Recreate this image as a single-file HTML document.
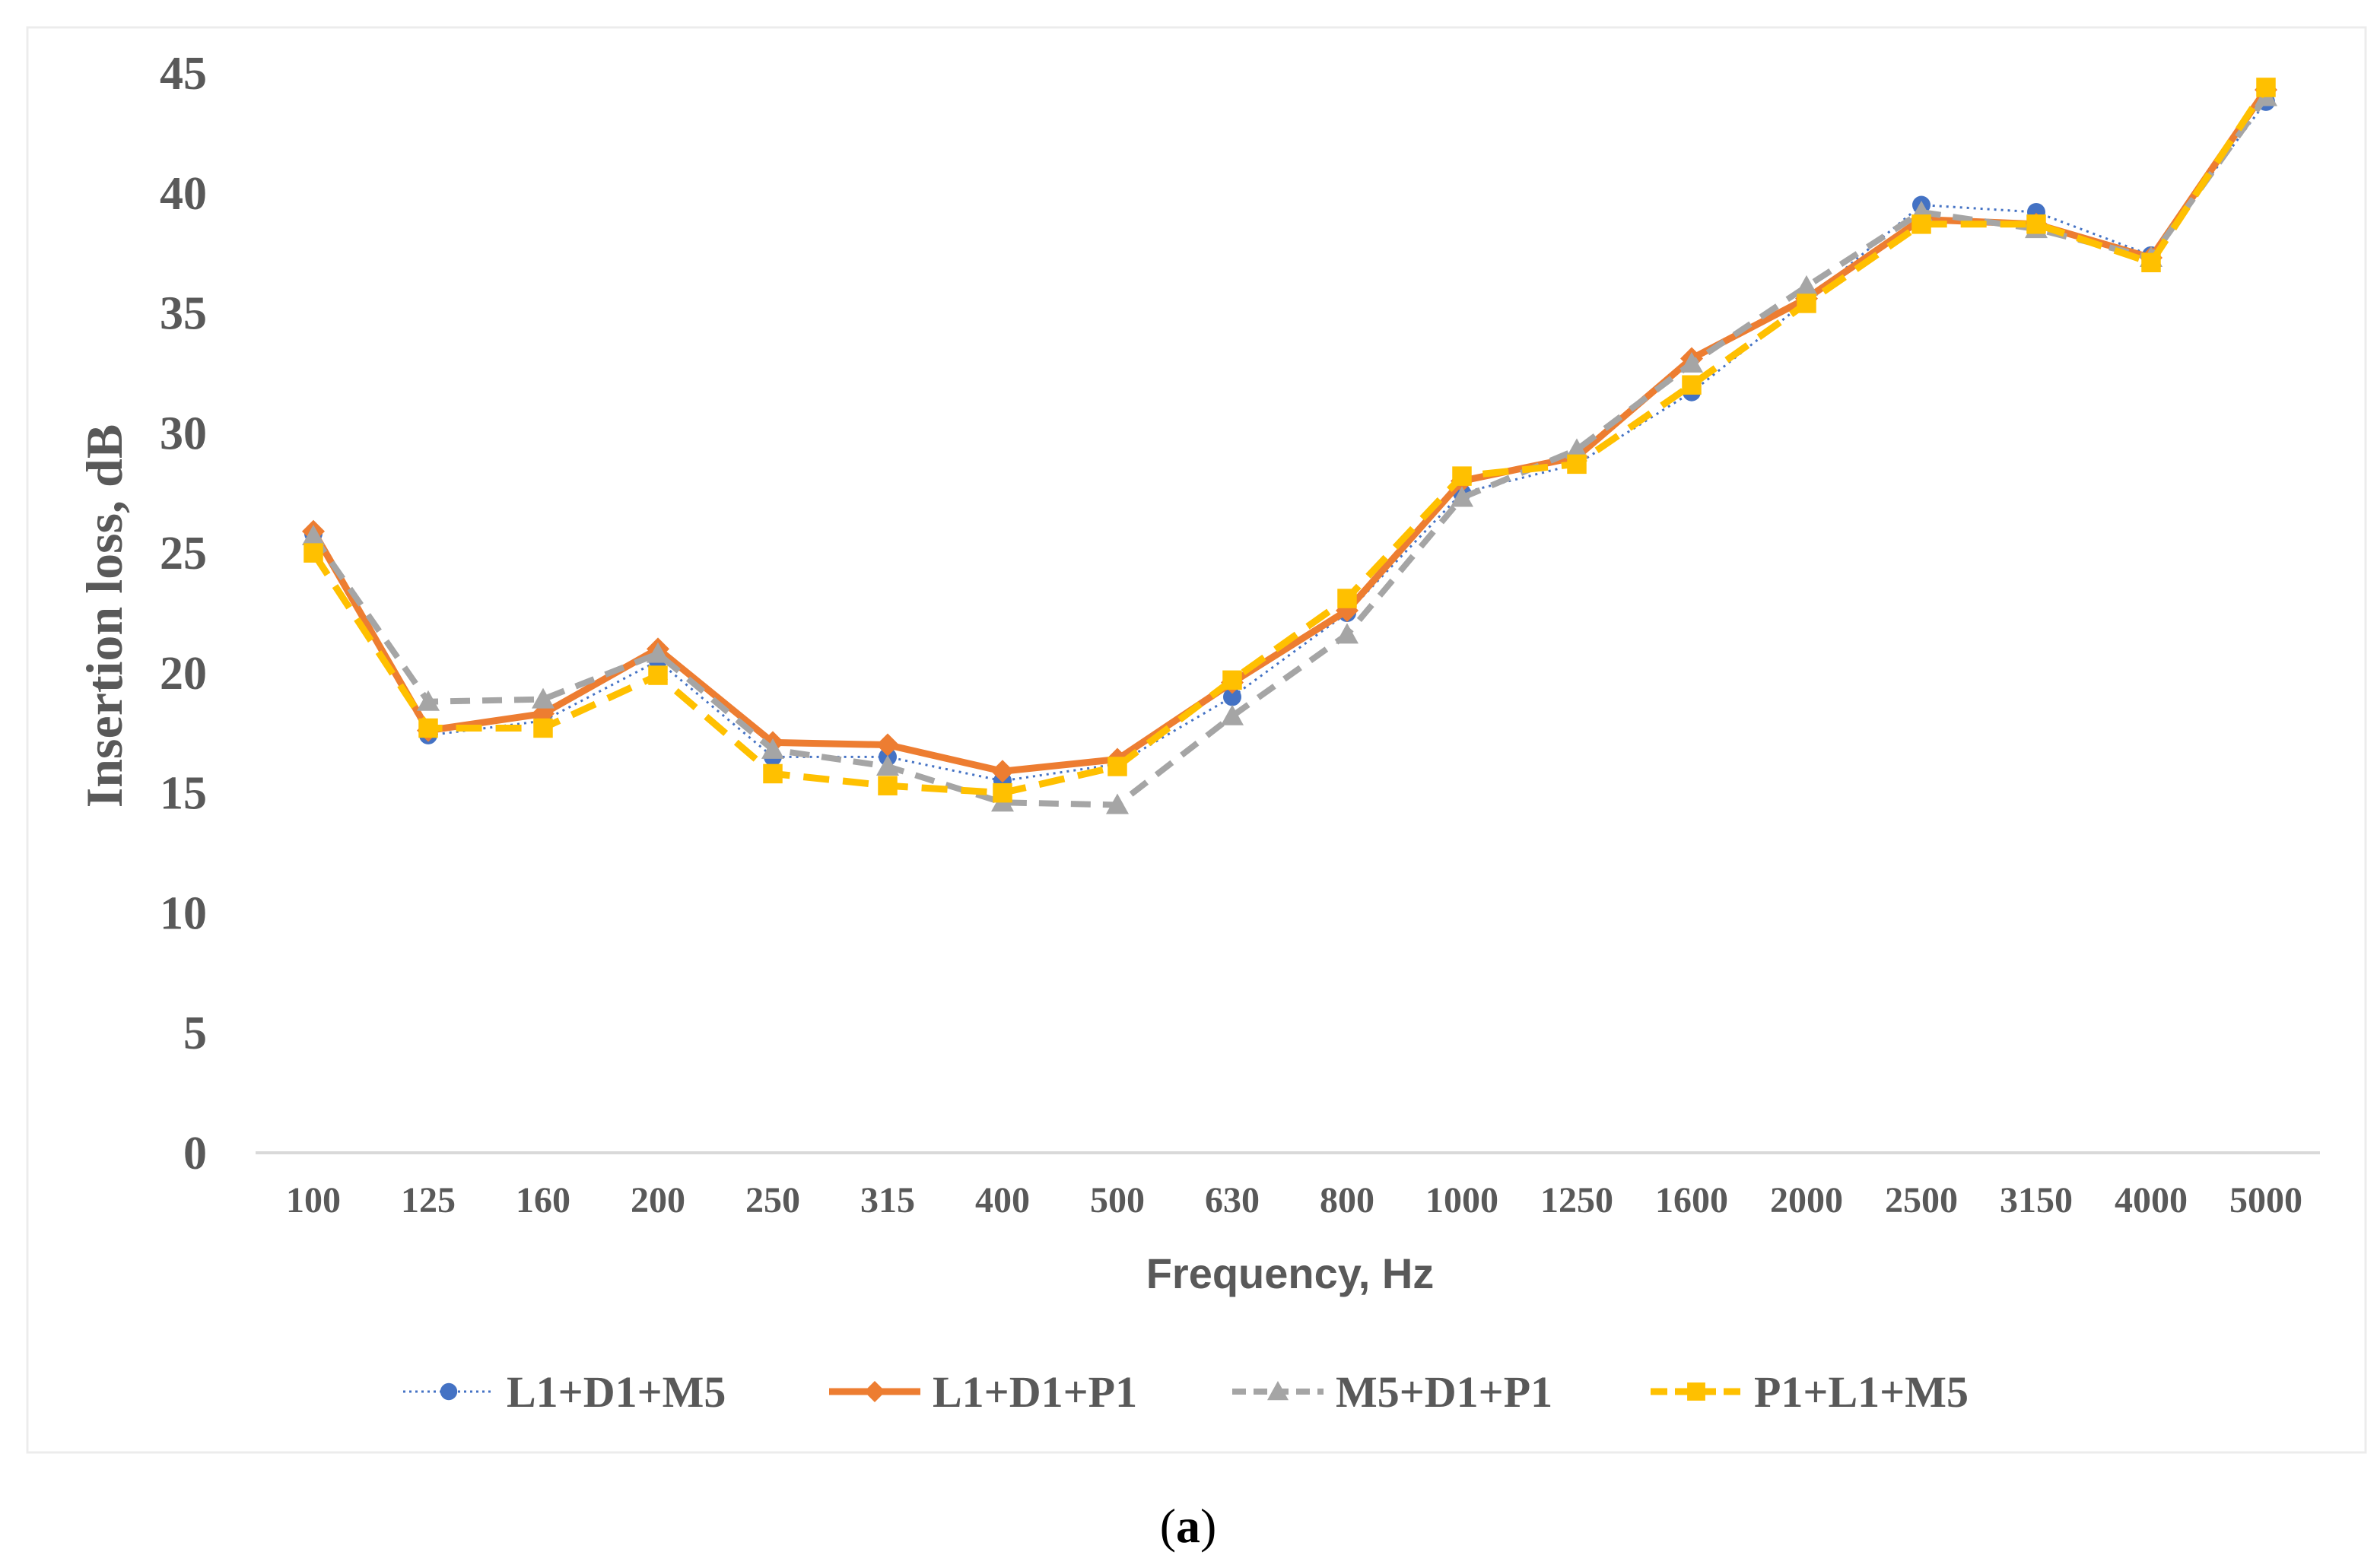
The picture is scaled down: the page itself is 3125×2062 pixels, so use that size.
<!DOCTYPE html>
<html><head><meta charset="utf-8"><style>
body{margin:0;background:#fff;width:3125px;height:2062px;overflow:hidden}
svg{display:block}
</style></head><body>
<svg id="chart" width="3125" height="2062" viewBox="0 0 3125 2062" xmlns="http://www.w3.org/2000/svg">
<rect x="36" y="36" width="3074" height="1874" fill="#fff" stroke="#ececec" stroke-width="3"/>
<g id="yticks"></g>
<g id="xticks"></g>
<line x1="336" y1="1516" x2="3050" y2="1516" stroke="#d9d9d9" stroke-width="4"/>
<g id="series"></g>
<text transform="translate(160,810) rotate(-90)" text-anchor="middle" font-family="Liberation Serif, serif" font-weight="bold" font-size="68" fill="#595959">Insertion loss, dB</text>
<text x="1696" y="1694" text-anchor="middle" font-family="Liberation Sans, sans-serif" font-weight="bold" font-size="56" fill="#595959">Frequency, Hz</text>
<g id="legend"></g>
<text x="1562" y="2028" text-anchor="middle" font-family="Liberation Serif, serif" font-size="64" fill="#000">(<tspan font-weight="bold">a</tspan>)</text>
</svg>
<script>
const categories=["100","125","160","200","250","315","400","500","630","800","1000","1250","1600","2000","2500","3150","4000","5000"];
const yTicks=[0,5,10,15,20,25,30,35,40,45];
const seriesNames=["L1+D1+M5","L1+D1+P1","M5+D1+P1","P1+L1+M5"];
const sL1D1M5=[25.8,17.4,18.0,20.5,16.5,16.5,15.5,16.2,19.0,22.5,27.5,28.7,31.7,35.5,39.5,39.2,37.4,43.8];
const sL1D1P1=[25.9,17.6,18.3,21.0,17.1,17.0,15.9,16.4,19.6,22.6,28.0,29.0,33.1,35.6,38.9,38.7,37.3,44.3];
const sM5D1P1=[25.7,18.8,18.9,20.8,16.8,16.1,14.6,14.5,18.2,21.6,27.3,29.3,32.9,36.1,39.2,38.5,37.3,44.0];
const sP1L1M5=[25.0,17.7,17.7,19.9,15.8,15.3,15.0,16.1,19.7,23.1,28.2,28.7,32.0,35.4,38.7,38.7,37.1,44.4];

const NS="http://www.w3.org/2000/svg";
const x=i=>412+i*151;
const y=v=>1516-v*(1420/45);
function mk(t,a,p){const e=document.createElementNS(NS,t);for(const k in a)e.setAttribute(k,a[k]);p.appendChild(e);return e;}
const yg=document.getElementById('yticks');
yTicks.forEach(v=>{const t=mk('text',{x:272,y:y(v)+21,'text-anchor':'end','font-family':'Liberation Serif, serif','font-weight':'bold','font-size':62,fill:'#595959'},yg);


t.textContent=v;});
const xg=document.getElementById('xticks');
categories.forEach((c,i)=>{const t=mk('text',{x:x(i),y:1594,'text-anchor':'middle','font-family':'Liberation Serif, serif','font-weight':'bold','font-size':48,fill:'#595959'},xg);


t.textContent=c;});
const styles=[
 {data:sL1D1M5,color:'#4472c4',w:3,dash:'3 6',marker:'circle'},
 {data:sL1D1P1,color:'#ed7d31',w:9,dash:'',marker:'diamond'},
 {data:sM5D1P1,color:'#a5a5a5',w:8,dash:'26 16',marker:'triangle'},
 {data:sP1L1M5,color:'#ffc000',w:9,dash:'34 18',marker:'square'}];
function marker(g,type,cx,cy,color,s){
 let e;
 if(type==='circle')e=mk('circle',{cx:cx,cy:cy,r:s*0.8,fill:color},g);
 else if(type==='diamond')e=mk('polygon',{points:`${cx},${cy-s} ${cx+s},${cy} ${cx},${cy+s} ${cx-s},${cy}`,fill:color},g);
 else if(type==='triangle')e=mk('polygon',{points:`${cx},${cy-s} ${cx+s},${cy+s*0.8} ${cx-s},${cy+s*0.8}`,fill:color},g);
 else e=mk('rect',{x:cx-s*0.85,y:cy-s*0.85,width:s*1.7,height:s*1.7,fill:color},g);
 return e;}
const sg=document.getElementById('series');
styles.forEach((s,k)=>{
 const g=mk('g',{},sg);
 
 
 const p=mk('polyline',{points:s.data.map((v,i)=>x(i)+','+y(v)).join(' '),fill:'none',stroke:s.color,'stroke-width':s.w,'stroke-dasharray':s.dash,'stroke-linejoin':'round'},g);
 
 
 s.data.forEach((v,i)=>{const m=marker(g,s.marker,x(i),y(v),s.color,15);
  
  });
});
const lg=document.getElementById('legend');
const lx=[530,1090,1620,2170];
styles.forEach((s,k)=>{
 const g=mk('g',{},lg);
 
 
 mk('line',{x1:lx[k],y1:1830,x2:lx[k]+120,y2:1830,stroke:s.color,'stroke-width':s.w,'stroke-dasharray':k===0?'3 5':(s.dash?(k===2?'18 10':'22 10'):'')},g);
 marker(g,s.marker,lx[k]+60,1830,s.color,14);
 const t=mk('text',{x:lx[k]+136,y:1850,'font-family':'Liberation Serif, serif','font-weight':'bold','font-size':58,fill:'#595959'},g);
 
 
 t.textContent=seriesNames[k];
});
</script>
</body></html>
